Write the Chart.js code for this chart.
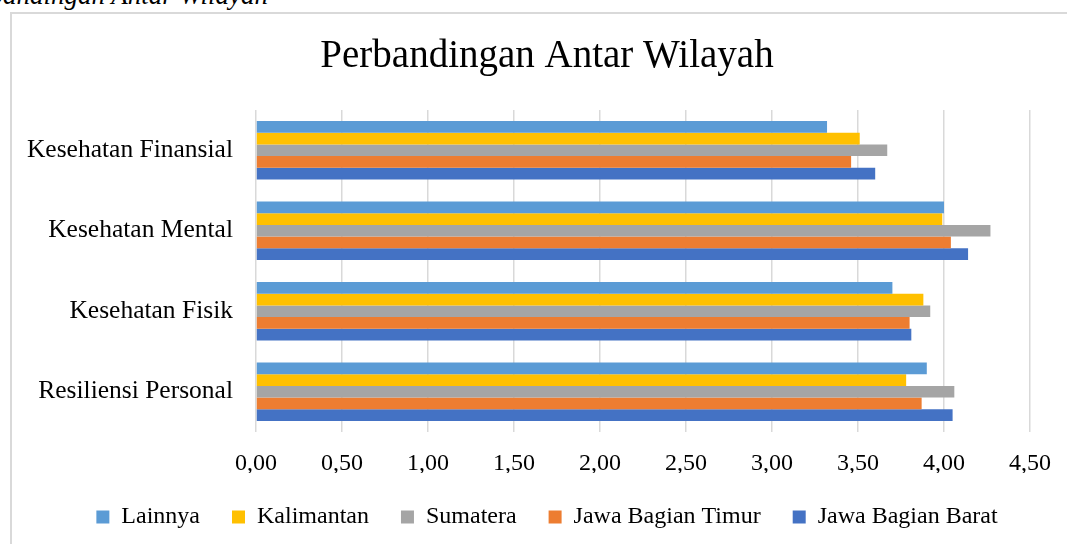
<!DOCTYPE html>
<html>
<head>
<meta charset="utf-8">
<script src="https://cdn.jsdelivr.net/npm/chart.js@4"></script>
<style>
    html, body { margin: 0; padding: 0; background: #fff; overflow: hidden; }
    body { width: 1067px; height: 544px; position: relative; }
    #caption {
        position: absolute; right: 799px; top: -18px;
        font: italic 27px "Liberation Serif", serif; line-height: 1;
        white-space: nowrap; color: #000;
    }
    #box {
        position: absolute; left: 10px; top: 12px;
        width: 1070px; height: 560px;
        border: 2px solid #d9d9d9;
    }
</style>
</head>
<body>
<div id="caption">Perbandingan Antar Wilayah</div>
<div id="box"><canvas id="regionChart" width="1070" height="540"></canvas></div>
<script>
const categories = ['Kesehatan Finansial', 'Kesehatan Mental', 'Kesehatan Fisik', 'Resiliensi Personal'];
const lainnya = [3.32, 4.00, 3.70, 3.90];
const kalimantan = [3.51, 3.99, 3.88, 3.78];
const sumatera = [3.67, 4.27, 3.92, 4.06];
const jawaTimur = [3.46, 4.04, 3.80, 3.87];
const jawaBarat = [3.60, 4.14, 3.81, 4.05];
const xTicks = [0, 0.5, 1, 1.5, 2, 2.5, 3, 3.5, 4, 4.5];

const serif = '"Liberation Serif", serif';

const regionChart = () => {
    const ctx = document.getElementById('regionChart').getContext('2d');

    const myBarChart = new Chart(ctx, {
        type: 'bar',
        data: {
            labels: categories,
            datasets: [
                { label: 'Lainnya', data: lainnya, backgroundColor: '#5b9bd5' },
                { label: 'Kalimantan', data: kalimantan, backgroundColor: '#ffc000' },
                { label: 'Sumatera', data: sumatera, backgroundColor: '#a5a5a5' },
                { label: 'Jawa Bagian Timur', data: jawaTimur, backgroundColor: '#ed7d31' },
                { label: 'Jawa Bagian Barat', data: jawaBarat, backgroundColor: '#4472c4' }
            ]
        },
        options: {
            indexAxis: 'y',
            responsive: false,
            animation: false,
            categoryPercentage: 0.725,
            barPercentage: 1,
            layout: {
                padding: { top: 0, left: 0, right: 0, bottom: 15 }
            },
            plugins: {
                title: {
                    display: true,
                    text: 'Perbandingan Antar Wilayah',
                    color: '#000',
                    font: { family: serif, size: 39, weight: 'normal', lineHeight: 1.2 },
                    padding: { top: 19.6, bottom: 29.6 }
                },
                legend: {
                    position: 'bottom',
                    labels: {
                        color: '#000',
                        font: { family: serif, size: 24 },
                        boxWidth: 13,
                        boxHeight: 13,
                        padding: 32
                    }
                },
                tooltip: { enabled: false }
            },
            scales: {
                x: {
                    min: 0,
                    max: 4.5,
                    afterBuildTicks: (axis) => {
                        axis.ticks = xTicks.map(v => ({ value: v }));
                    },
                    afterFit: (axis) => { axis.height = 41; },
                    grid: { color: '#d9d9d9', lineWidth: 1.5, drawTicks: false },
                    border: { display: false },
                    ticks: {
                        color: '#000',
                        padding: 17,
                        font: { family: serif, size: 24 },
                        callback: (value) => value.toFixed(2).replace('.', ',')
                    }
                },
                y: {
                    afterFit: (axis) => { axis.width = 244; },
                    grid: { display: false, drawTicks: false },
                    border: { display: false },
                    ticks: {
                        color: '#000',
                        padding: 23,
                        font: { family: serif, size: 25.5 }
                    }
                },
                // empty right-hand axis, only keeps space right of the plot
                spacer: {
                    type: 'category',
                    position: 'right',
                    afterFit: (axis) => { axis.width = 52; },
                    grid: { display: false, drawTicks: false },
                    border: { display: false },
                    ticks: { display: false }
                }
            }
        }
    });
}

regionChart();
</script>
</body>
</html>
